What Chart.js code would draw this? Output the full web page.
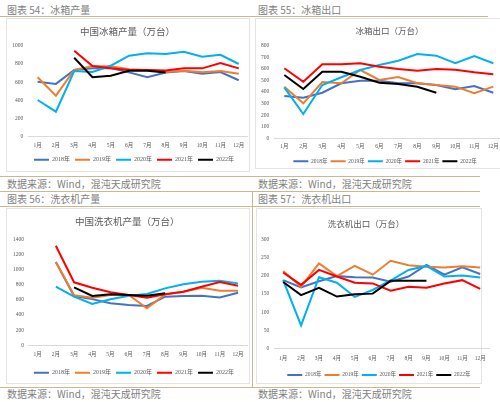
<!DOCTYPE html>
<html><head><meta charset="utf-8">
<script src="https://cdn.jsdelivr.net/npm/chart.js@4.4.1/dist/chart.umd.min.js"></script>
<style>
html,body{margin:0;padding:0;background:#fff;}
body{width:500px;height:402px;position:relative;overflow:hidden;font-family:"Noto Sans CJK SC",sans-serif;}
.t{position:absolute;font-size:10px;line-height:12px;color:#7f7f7f;white-space:nowrap;}
.hl{position:absolute;height:1px;background:#cbb88e;}
.vl{position:absolute;width:1px;background:#cbb88e;}
.box{position:absolute;border:1px solid #e4e4e4;box-sizing:border-box;}
canvas{position:absolute;}
</style></head><body>
<div class="hl" style="left:0;top:16px;width:488px"></div>
<div class="hl" style="left:0;top:176px;width:480px"></div>
<div class="hl" style="left:0;top:191px;width:480px"></div>
<div class="hl" style="left:0;top:206px;width:480px"></div>
<div class="hl" style="left:0;top:387px;width:480px"></div>
<div class="vl" style="left:252px;top:191px;height:197px"></div>
<div class="box" style="left:6px;top:18px;width:244px;height:154px"></div>
<div class="box" style="left:255px;top:18px;width:250px;height:151px"></div>
<div class="box" style="left:6px;top:208px;width:244px;height:176px"></div>
<div class="box" style="left:256px;top:208px;width:226px;height:176px"></div>

<div class="t" style="left:7px;top:4px">图表 54：冰箱产量</div>
<div class="t" style="left:258px;top:4px">图表 55：冰箱出口</div>
<div class="t" style="left:7px;top:178px">数据来源：Wind，混沌天成研究院</div>
<div class="t" style="left:258px;top:178px">数据来源：Wind，混沌天成研究院</div>
<div class="t" style="left:7px;top:193px">图表 56：洗衣机产量</div>
<div class="t" style="left:258px;top:193px">图表 57：洗衣机出口</div>
<div class="t" style="left:7px;top:388px">数据来源：Wind，混沌天成研究院</div>
<div class="t" style="left:258px;top:388px">数据来源：Wind，混沌天成研究院</div>

<script>
const months = ['1月','2月','3月','4月','5月','6月','7月','8月','9月','10月','11月','12月'];
const years = ['2018年','2019年','2020年','2021年','2022年'];
const colors = ['#4472C4','#ED7D31','#00B0F0','#FF0000','#000000'];

// 中国冰箱产量（万台）
const fridgeProd2018 = [604,580,733,751,755,707,653,705,722,693,711,620];
const fridgeProd2019 = [653,451,733,773,773,740,733,711,725,707,722,693];
const fridgeProd2020 = [403,275,722,711,780,890,916,909,934,879,900,799];
const fridgeProd2021 = [null,null,945,777,751,733,733,727,751,751,810,751];
const fridgeProd2022 = [null,null,868,653,670,725,725,705,null,null,null,null];

// 冰箱出口（万台）
const fridgeExp2018 = [365,351,394,475,498,498,475,475,460,423,452,394];
const fridgeExp2019 = [446,302,486,475,590,504,530,475,460,446,389,446];
const fridgeExp2020 = [440,210,460,527,590,633,670,728,714,648,711,648];
const fridgeExp2021 = [605,489,639,639,648,619,599,584,599,593,570,553];
const fridgeExp2022 = [547,426,575,575,532,480,469,446,394,null,null,null];

// 中国洗衣机产量（万台）
const washProd2018 = [null,1100,651,610,555,532,519,642,651,655,633,695];
const washProd2019 = [null,1100,660,629,664,664,488,673,708,761,722,722];
const washProd2020 = [null,774,642,545,607,655,677,752,805,840,853,818];
const washProd2021 = [null,1315,832,761,700,664,629,673,708,774,836,787];
const washProd2022 = [null,null,766,651,673,664,655,686,null,null,null,null];

// 洗衣机出口（万台）
const washExp2018 = [188,168,185,199,196,195,184,198,230,203,223,205];
const washExp2019 = [213,170,234,199,227,203,241,229,225,223,226,223];
const washExp2020 = [188,64,196,181,142,161,187,216,227,198,201,195];
const washExp2021 = [209,175,216,198,181,179,159,170,167,179,188,164];
const washExp2022 = [183,147,167,143,149,151,186,186,186,null,null,null];

const SERIF = '"Liberation Serif","Noto Sans CJK SC",serif';
const CJK = '"Noto Sans CJK SC",sans-serif';

function makeChart(c) {
  const cv = document.createElement('canvas');
  cv.width = c.w; cv.height = c.h;
  cv.style.left = c.left + 'px'; cv.style.top = c.top + 'px';
  cv.style.width = c.w + 'px'; cv.style.height = c.h + 'px';
  document.body.appendChild(cv);
  const datasets = c.series.map((d, i) => ({
    label: years[i], data: d,
    borderColor: colors[i], backgroundColor: colors[i],
    borderWidth: 2, pointRadius: 0, tension: 0, fill: false,
    order: 5 - i
  }));
  const scales = {
    x: {
      offset: true,
      grid: {display: false, drawTicks: false},
      border: {display: true, color: '#d9d9d9', width: 1},
      ticks: {color: '#595959', font: {family: SERIF, size: 5.5}, padding: c.xp,
              autoSkip: false, maxRotation: 0, minRotation: 0},
      afterFit: s => { s.height = c.xh; }
    },
    y: {
      min: 0, max: c.max,
      grid: {display: false, drawTicks: false},
      border: {display: false},
      ticks: {stepSize: c.step, color: '#595959', font: {family: SERIF, size: 5.5},
              padding: c.yp, callback: v => String(v)},
      afterFit: s => { s.width = c.yw; }
    }
  };
  if (c.yr) {
    scales.yR = {
      type: 'linear', position: 'right', display: true,
      grid: {display: false, drawTicks: false}, border: {display: false},
      ticks: {display: false},
      afterFit: s => { s.width = c.yr; }
    };
  }
  new Chart(cv.getContext('2d'), {
    type: 'line',
    data: {labels: months, datasets},
    options: {
      responsive: false, animation: false, devicePixelRatio: 1,
      layout: {padding: {left: 0, right: c.padR || 0, top: 0, bottom: c.padB}},
      plugins: {
        title: {display: true, text: c.title, color: '#595959',
                font: {family: CJK, size: c.tf, weight: 'normal'},
                padding: {top: c.tTop, bottom: c.tBot}},
        legend: {position: 'bottom',
                 labels: {boxWidth: 15, boxHeight: 0, padding: c.lp, color: '#595959',
                          font: {family: SERIF, size: c.lf},
                          sort: (a, b) => a.datasetIndex - b.datasetIndex}},
        tooltip: {enabled: false}
      },
      scales
    },
    plugins: [{
      id: 'shiftLegend',
      afterLayout(chart) { if (chart.legend) { chart.legend.left += c.dx; chart.legend.right += c.dx; } }
    }]
  });
}

makeChart({left: 6, top: 18, w: 244, h: 156, title: '中国冰箱产量（万台）', tf: 9.5, tTop: 7.3, tBot: 9,
  yw: 22.5, yp: 5.2, padR: 0.8, xp: 5.7, xh: 15, padB: 1.3, max: 1000, step: 200, lf: 6, lp: 5, dx: 6.4,
  series: [fridgeProd2018, fridgeProd2019, fridgeProd2020, fridgeProd2021, fridgeProd2022]});

makeChart({left: 258, top: 18, w: 263, h: 157, title: '冰箱出口（万台）', tf: 8.5, tTop: 7.9, tBot: 9.6,
  yw: 16.8, yp: 5.5, yr: 18.2, xp: 5.1, xh: 17.25, padB: 0.95, max: 800, step: 100, lf: 5.5, lp: 3, dx: -4.5,
  series: [fridgeExp2018, fridgeExp2019, fridgeExp2020, fridgeExp2021, fridgeExp2022]});

makeChart({left: 6, top: 208, w: 244, h: 179, title: '中国洗衣机产量（万台）', tf: 9.5, tTop: 7.3, tBot: 12.6,
  yw: 22.5, yp: 4.5, padR: 1.5, xp: 6.4, xh: 19.4, padB: 1.3, max: 1400, step: 200, lf: 6, lp: 5, dx: 6.7,
  series: [washProd2018, washProd2019, washProd2020, washProd2021, washProd2022]});

makeChart({left: 240, top: 208, w: 252, h: 181, title: '洗衣机出口（万台）', tf: 8.5, tTop: 10.2, tBot: 10.9,
  yw: 34.2, yp: 4.9, padR: 0.2, xp: 6.3, xh: 20.55, padB: 1.25, max: 300, step: 50, lf: 5.5, lp: 3, dx: 13,
  series: [washExp2018, washExp2019, washExp2020, washExp2021, washExp2022]});
</script>
</body></html>
